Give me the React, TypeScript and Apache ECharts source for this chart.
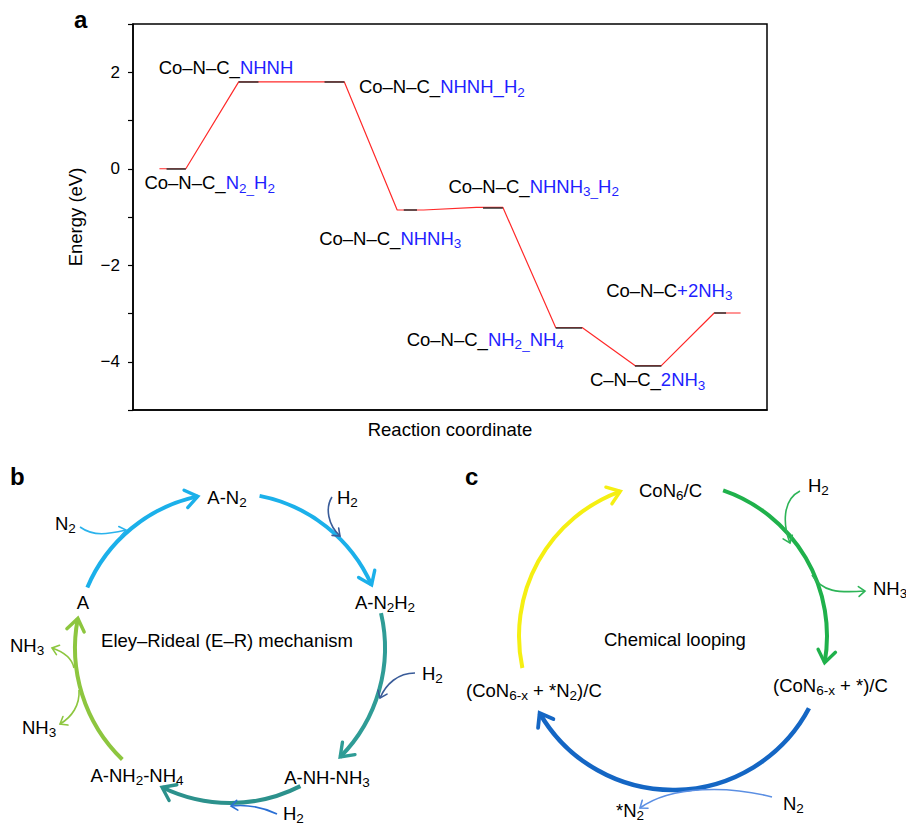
import React, { useEffect, useRef } from 'react';
import * as echarts from 'echarts';

const FONT = '"Liberation Sans", Arial, Helvetica, sans-serif';
const BLUE_TXT = '#1f1fff';
const MAIN_SIZE = 18.5;
const SUB_SIZE = 13.5;
const SUB_SHIFT = 5.5;

// ---------- Panel a data ----------
const stateLabels = [
  '{k|Co–N–C_}{b|N}{bs|2_}{b|H}{bs|2}',
  '{k|Co–N–C_}{b|NHNH}',
  '{k|Co–N–C_}{b|NHNH_H}{bs|2}',
  '{k|Co–N–C_}{b|NHNH}{bs|3}',
  '{k|Co–N–C_}{b|NHNH}{bs|3_}{b|H}{bs|2}',
  '{k|Co–N–C_}{b|NH}{bs|2_}{b|NH}{bs|4}',
  '{k|C–N–C_}{b|2NH}{bs|3}',
  '{k|Co–N–C}{b|+2NH}{bs|3}',
];
const stateX = [0, 3, 6, 9, 12, 15, 18, 21];
const stateEnergy = [0, 1.8, 1.8, -0.855, -0.8, -3.29, -4.08, -2.99];
const yTickValues = [-4, -2, 0, 2];
const levelMarkStart = [0.27, 0, 0.25, 0.25, 0.25, 0, 0, 0];
const levelMarkEnd = [1, 0.75, 1, 0.75, 1, 1, 1, 0.45];
const labelOffsets = [
  [-15, 14], [-80, -14], [41, 5], [-78, 28], [-28, -21], [-149, 12], [-45, 14], [-108, -23],
];

const deg = (d: number) => (d * Math.PI) / 180;

let measureCtx: CanvasRenderingContext2D | null = null;
function textWidth(t: string, size: number) {
  if (!measureCtx) measureCtx = document.createElement('canvas').getContext('2d');
  measureCtx!.font = `${size}px ${FONT}`;
  return measureCtx!.measureText(t).width;
}

function markup(s: string) {
  let out = '';
  const re = /_\{([^}]*)\}/g;
  let last = 0;
  let m: RegExpExecArray | null;
  while ((m = re.exec(s))) {
    if (m.index > last) out += '{k|' + s.slice(last, m.index) + '}';
    out += '{ks|' + m[1] + '}';
    last = m.index + m[0].length;
  }
  if (last < s.length) out += '{k|' + s.slice(last) + '}';
  return out;
}

function txt(x: number, yc: number, text: string, align = 'left') {
  const segs: { t: string; sub: boolean; color: string }[] = [];
  const re = /\{(\w+)\|([^}]*)\}/g;
  let m: RegExpExecArray | null;
  while ((m = re.exec(text))) {
    const key = m[1];
    segs.push({ t: m[2], sub: key.endsWith('s'), color: key.startsWith('b') ? BLUE_TXT : '#000' });
  }
  const widths = segs.map((s) => textWidth(s.t, s.sub ? SUB_SIZE : MAIN_SIZE));
  const total = widths.reduce((a, b) => a + b, 0);
  let cx = align === 'center' ? x - total / 2 : align === 'right' ? x - total : x;
  const children: any[] = [];
  segs.forEach((s, i) => {
    children.push({
      type: 'text',
      x: cx,
      y: yc + (s.sub ? SUB_SHIFT : 0),
      silent: true,
      style: {
        text: s.t,
        fontSize: s.sub ? SUB_SIZE : MAIN_SIZE,
        fontFamily: FONT,
        fill: s.color,
        align: 'left',
        verticalAlign: 'middle',
      },
    });
    cx += widths[i];
  });
  return { type: 'group', children };
}

function panelLetter(x: number, ym: number, t: string) {
  return {
    type: 'text',
    x,
    y: ym,
    silent: true,
    style: { text: t, fontSize: 24, fontWeight: 'bold', fontFamily: FONT, fill: '#000', align: 'left', verticalAlign: 'middle' },
  };
}

function chevron(x: number, y: number, dir: number, len: number, spreadDeg: number, color: string, lw: number) {
  const s = deg(spreadDeg);
  const p1 = [x - len * Math.cos(dir - s), y - len * Math.sin(dir - s)];
  const p2 = [x - len * Math.cos(dir + s), y - len * Math.sin(dir + s)];
  return {
    type: 'polyline',
    silent: true,
    shape: { points: [p1, [x, y], p2] },
    style: { stroke: color, lineWidth: lw, fill: 'none', lineJoin: 'miter', lineCap: 'round' },
  };
}

function arcArrow(cx: number, cy: number, r: number, a0: number, a1: number, color: string, lw = 4) {
  const t = deg(a1);
  const tipX = cx + r * Math.cos(t);
  const tipY = cy + r * Math.sin(t);
  const dir = Math.atan2(Math.cos(t), -Math.sin(t));
  return [
    {
      type: 'arc',
      silent: true,
      shape: { cx, cy, r, startAngle: deg(a0), endAngle: deg(a1), clockwise: true },
      style: { stroke: color, lineWidth: lw, fill: 'none' },
    },
    chevron(tipX, tipY, dir, 15, 36, color, lw * 0.85),
  ];
}

function bezArrow(p0: number[], c1: number[], c2: number[], p1: number[], color: string, lw = 1.6) {
  return [
    {
      type: 'bezierCurve',
      silent: true,
      shape: { x1: p0[0], y1: p0[1], cpx1: c1[0], cpy1: c1[1], cpx2: c2[0], cpy2: c2[1], x2: p1[0], y2: p1[1] },
      style: { stroke: color, lineWidth: lw, fill: 'none' },
    },
    chevron(p1[0], p1[1], Math.atan2(p1[1] - c2[1], p1[0] - c2[0]), 8, 38, color, lw),
  ];
}

function diagramGraphics() {
  const g: any[] = [];
  // Panel b
  const bcx = 230, bcy = 648, br = 155;
  g.push(...arcArrow(bcx, bcy, br, -157, -102, '#1bb0ea'));
  g.push(...arcArrow(bcx, bcy, br, -79, -24, '#1bb0ea'));
  g.push(...arcArrow(bcx, bcy, br, -13, 44.7, '#2f9c96'));
  g.push(...arcArrow(bcx, bcy, br, 63, 116, '#2c918c'));
  g.push(...arcArrow(bcx, bcy, br, 134, 191, '#8dc63f'));
  g.push(...bezArrow([80, 527], [94, 537], [108, 534], [126, 530], '#2bb3ec'));
  g.push(...bezArrow([332, 497], [325, 508], [328, 525], [340, 536], '#3a5c99'));
  g.push(...bezArrow([415, 673], [398, 673], [386, 684], [380, 698], '#3a5c99'));
  g.push(...bezArrow([277, 814], [262, 807], [248, 804], [231, 806], '#2a6fd4'));
  g.push(...bezArrow([74, 668], [72, 658], [64, 652], [52, 648], '#8dc63f'));
  g.push(...bezArrow([79, 690], [80, 705], [72, 717], [60, 724], '#8dc63f'));
  g.push(panelLetter(10, 476.6, 'b'));
  g.push(txt(227, 497, markup('A-N_{2}'), 'center'));
  g.push(txt(385, 602, markup('A-N_{2}H_{2}'), 'center'));
  g.push(txt(327, 777, markup('A-NH-NH_{3}'), 'center'));
  g.push(txt(137, 775, markup('A-NH_{2}-NH_{4}'), 'center'));
  g.push(txt(83, 602, markup('A'), 'center'));
  g.push(txt(227, 640, markup('Eley–Rideal (E–R) mechanism'), 'center'));
  g.push(txt(55, 523, markup('N_{2}')));
  g.push(txt(337, 497, markup('H_{2}')));
  g.push(txt(422, 673, markup('H_{2}')));
  g.push(txt(283, 813, markup('H_{2}')));
  g.push(txt(10, 645, markup('NH_{3}')));
  g.push(txt(22, 727, markup('NH_{3}')));

  // Panel c
  const ccx = 673, ccy = 636, cr = 154;
  g.push(...arcArrow(ccx, ccy, cr, 168, 250, '#f5ef12'));
  g.push(...arcArrow(ccx, ccy, cr, -71, 10, '#1fb14b'));
  g.push(...arcArrow(ccx, ccy, cr, 28, 150, '#1466c4', 4.5));
  g.push(...bezArrow([800, 491], [782, 500], [783, 525], [790, 543], '#2db457'));
  g.push(...bezArrow([812, 575], [822, 592], [838, 593], [865, 591], '#2db457'));
  g.push(...bezArrow([772, 797], [730, 786], [672, 785], [640, 808], '#5b8fe3'));
  g.push(panelLetter(465, 476.6, 'c'));
  g.push(txt(639, 490, markup('CoN_{6}/C')));
  g.push(txt(808, 485, markup('H_{2}')));
  g.push(txt(873, 588, markup('NH_{3}')));
  g.push(txt(604, 639, markup('Chemical looping')));
  g.push(txt(773, 685, markup('(CoN_{6-x} + *)/C')));
  g.push(txt(466, 690, markup('(CoN_{6-x} + *N_{2})/C')));
  g.push(txt(783, 803, markup('N_{2}')));
  g.push(txt(616, 810, markup('*N_{2}')));

  // Panel a letter
  g.push(panelLetter(74, 19.6, 'a'));
  return g;
}

export default function App() {
  const ref = useRef<HTMLDivElement>(null);
  useEffect(() => {
    document.body.style.margin = '0';
    if (!ref.current) return;
    const chart = echarts.init(ref.current, null, { renderer: 'svg' });

    const pathData: number[][] = [];
    stateX.forEach((x, i) => {
      pathData.push([x, stateEnergy[i]]);
      pathData.push([x + 1, stateEnergy[i]]);
    });
    const marks = stateX.map((x, i) => ({
      coords: [
        [x + levelMarkStart[i], stateEnergy[i]],
        [x + levelMarkEnd[i], stateEnergy[i]],
      ],
    }));

    chart.setOption({
      animation: false,
      backgroundColor: '#fff',
      grid: { left: 133, top: 24, width: 634, height: 386, show: true, borderColor: '#000', borderWidth: 1.5 },
      xAxis: {
        type: 'value',
        min: -1,
        max: 23,
        name: 'Reaction coordinate',
        nameLocation: 'middle',
        nameGap: 10,
        nameTextStyle: { fontSize: 18.5, fontFamily: FONT, color: '#000', verticalAlign: 'top' },
        axisLine: { show: true, onZero: false, lineStyle: { color: '#000', width: 1.5 } },
        axisTick: { show: false },
        axisLabel: { show: false },
        splitLine: { show: false },
      },
      yAxis: {
        type: 'value',
        min: -5,
        max: 3,
        interval: 1,
        name: 'Energy (eV)',
        nameLocation: 'middle',
        nameGap: 48,
        nameTextStyle: { fontSize: 18.5, fontFamily: FONT, color: '#000' },
        axisLine: { show: true, onZero: false, lineStyle: { color: '#000', width: 1.5 } },
        axisTick: { show: true, inside: false, length: 5, lineStyle: { color: '#000', width: 1.2 } },
        axisLabel: {
          margin: 13,
          fontSize: 17,
          fontFamily: FONT,
          color: '#000',
          formatter: (v: number) =>
            yTickValues.includes(v) ? (v < 0 ? '−' + Math.abs(v) : String(v)) : '',
        },
        splitLine: { show: false },
      },
      series: [
        {
          type: 'line',
          data: pathData,
          symbol: 'none',
          lineStyle: { color: '#ff2a2a', width: 1.2 },
          z: 2,
        },
        {
          type: 'lines',
          coordinateSystem: 'cartesian2d',
          data: marks,
          lineStyle: { color: '#333', width: 1.6, opacity: 1 },
          z: 3,
        },
      ],
    });

    const labelGraphics = stateLabels.map((t, i) => {
      const p = chart.convertToPixel({ gridIndex: 0 } as any, [stateX[i], stateEnergy[i]]) as number[];
      return txt(p[0] + labelOffsets[i][0], p[1] + labelOffsets[i][1], t, 'left');
    });
    chart.setOption({ graphic: [...diagramGraphics(), ...labelGraphics] });

    return () => chart.dispose();
  }, []);
  return <div ref={ref} style={{ width: 906, height: 827 }} />;
}
